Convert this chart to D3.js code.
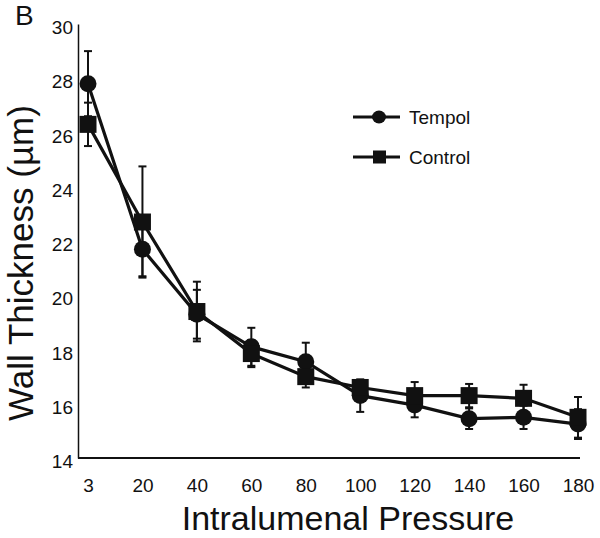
<!DOCTYPE html>
<html><head><meta charset="utf-8">
<script src="https://cdn.jsdelivr.net/npm/d3@7"></script>
<style>body{margin:0;background:#fff}svg{display:block}text{font-family:"Liberation Sans",Arial,sans-serif;fill:#111}</style>
</head><body>
<svg id="c" width="600" height="538"></svg>
<script>
const pressures = ["3","20","40","60","80","100","120","140","160","180"];
const tempol = [27.8, 21.7, 19.3, 18.1, 17.55, 16.3, 15.95, 15.45, 15.5, 15.25];
const tempolErr = [1.2, 1.0, 0.9, 0.7, 0.7, 0.6, 0.45, 0.38, 0.43, 0.55];
const control = [26.3, 22.7, 19.4, 17.85, 17.0, 16.6, 16.3, 16.3, 16.2, 15.5];
const controlErr = [0.8, 2.05, 1.1, 0.5, 0.4, 0.15, 0.5, 0.43, 0.5, 0.75];
const yTicks = [14, 16, 18, 20, 22, 24, 26, 28, 30];

const svg = d3.select("#c");
const x = d3.scalePoint().domain(pressures).range([88, 578]);
const y = d3.scaleLinear().domain([14, 30]).range([458, 24]);
const FF = '"Liberation Sans",Arial,sans-serif';

// axes
const yAx = svg.append("g").attr("transform","translate(78,0)")
  .call(d3.axisLeft(y).tickValues(yTicks).tickSize(0).tickPadding(5));
yAx.select(".domain").attr("stroke","#111").attr("stroke-width",1.5);
yAx.selectAll("text").attr("font-size",19).attr("dy","0.5em").style("font-family",FF);

svg.append("line").attr("x1",78).attr("x2",580).attr("y1",458).attr("y2",458)
  .attr("stroke","#111").attr("stroke-width",2);
const xAx = svg.append("g").attr("transform","translate(0,458)")
  .call(d3.axisBottom(x).tickSize(0).tickPadding(21));
xAx.select(".domain").remove();
xAx.selectAll("text").attr("font-size",19).style("font-family",FF);

svg.append("text").attr("x",348).attr("y",530).attr("text-anchor","middle")
  .attr("font-size",34).text("Intralumenal Pressure");
svg.append("text").attr("transform","translate(33,263) rotate(-90)").attr("text-anchor","middle")
  .attr("font-size",35).text("Wall Thickness (µm)");
svg.append("text").attr("x",15).attr("y",25).attr("font-size",28).text("B");

const series = [
  {name:"Tempol", vals:tempol, err:tempolErr, shape:"circle"},
  {name:"Control", vals:control, err:controlErr, shape:"square"}
];
const line = d3.line().x((d,i)=>x(pressures[i])).y(d=>y(d));

series.forEach(s=>{
  const g = svg.append("g");
  s.vals.forEach((v,i)=>{
    const cx = x(pressures[i]);
    g.append("line").attr("x1",cx).attr("x2",cx).attr("y1",y(v+s.err[i])).attr("y2",y(v-s.err[i]))
      .attr("stroke","#111").attr("stroke-width",2);
    [v+s.err[i], v-s.err[i]].forEach(e=>{
      g.append("line").attr("x1",cx-4).attr("x2",cx+4).attr("y1",y(e)).attr("y2",y(e))
        .attr("stroke","#111").attr("stroke-width",2);
    });
  });
});
series.forEach(s=>{
  svg.append("path").datum(s.vals).attr("d",line).attr("fill","none")
    .attr("stroke","#111").attr("stroke-width",3.2);
});
series.forEach(s=>{
  s.vals.forEach((v,i)=>{
    const cx = x(pressures[i]), cy = y(v);
    if (s.shape==="circle") svg.append("circle").attr("cx",cx).attr("cy",cy).attr("r",8.5).attr("fill","#111");
    else svg.append("rect").attr("x",cx-8.5).attr("y",cy-8.5).attr("width",17).attr("height",17).attr("fill","#111");
  });
});

// legend
const leg = svg.append("g");
series.forEach((s,i)=>{
  const ly = 117 + i*40;
  leg.append("line").attr("x1",353).attr("x2",400).attr("y1",ly).attr("y2",ly).attr("stroke","#111").attr("stroke-width",3);
  if (s.shape==="circle") leg.append("ellipse").attr("cx",379).attr("cy",ly).attr("rx",7).attr("ry",6.5).attr("fill","#111");
  else leg.append("rect").attr("x",373).attr("y",ly-6.5).attr("width",13).attr("height",13).attr("fill","#111");
  leg.append("text").attr("x",409).attr("y",ly).attr("dy","0.36em").attr("font-size",19).text(s.name);
});
</script>
</body></html>
